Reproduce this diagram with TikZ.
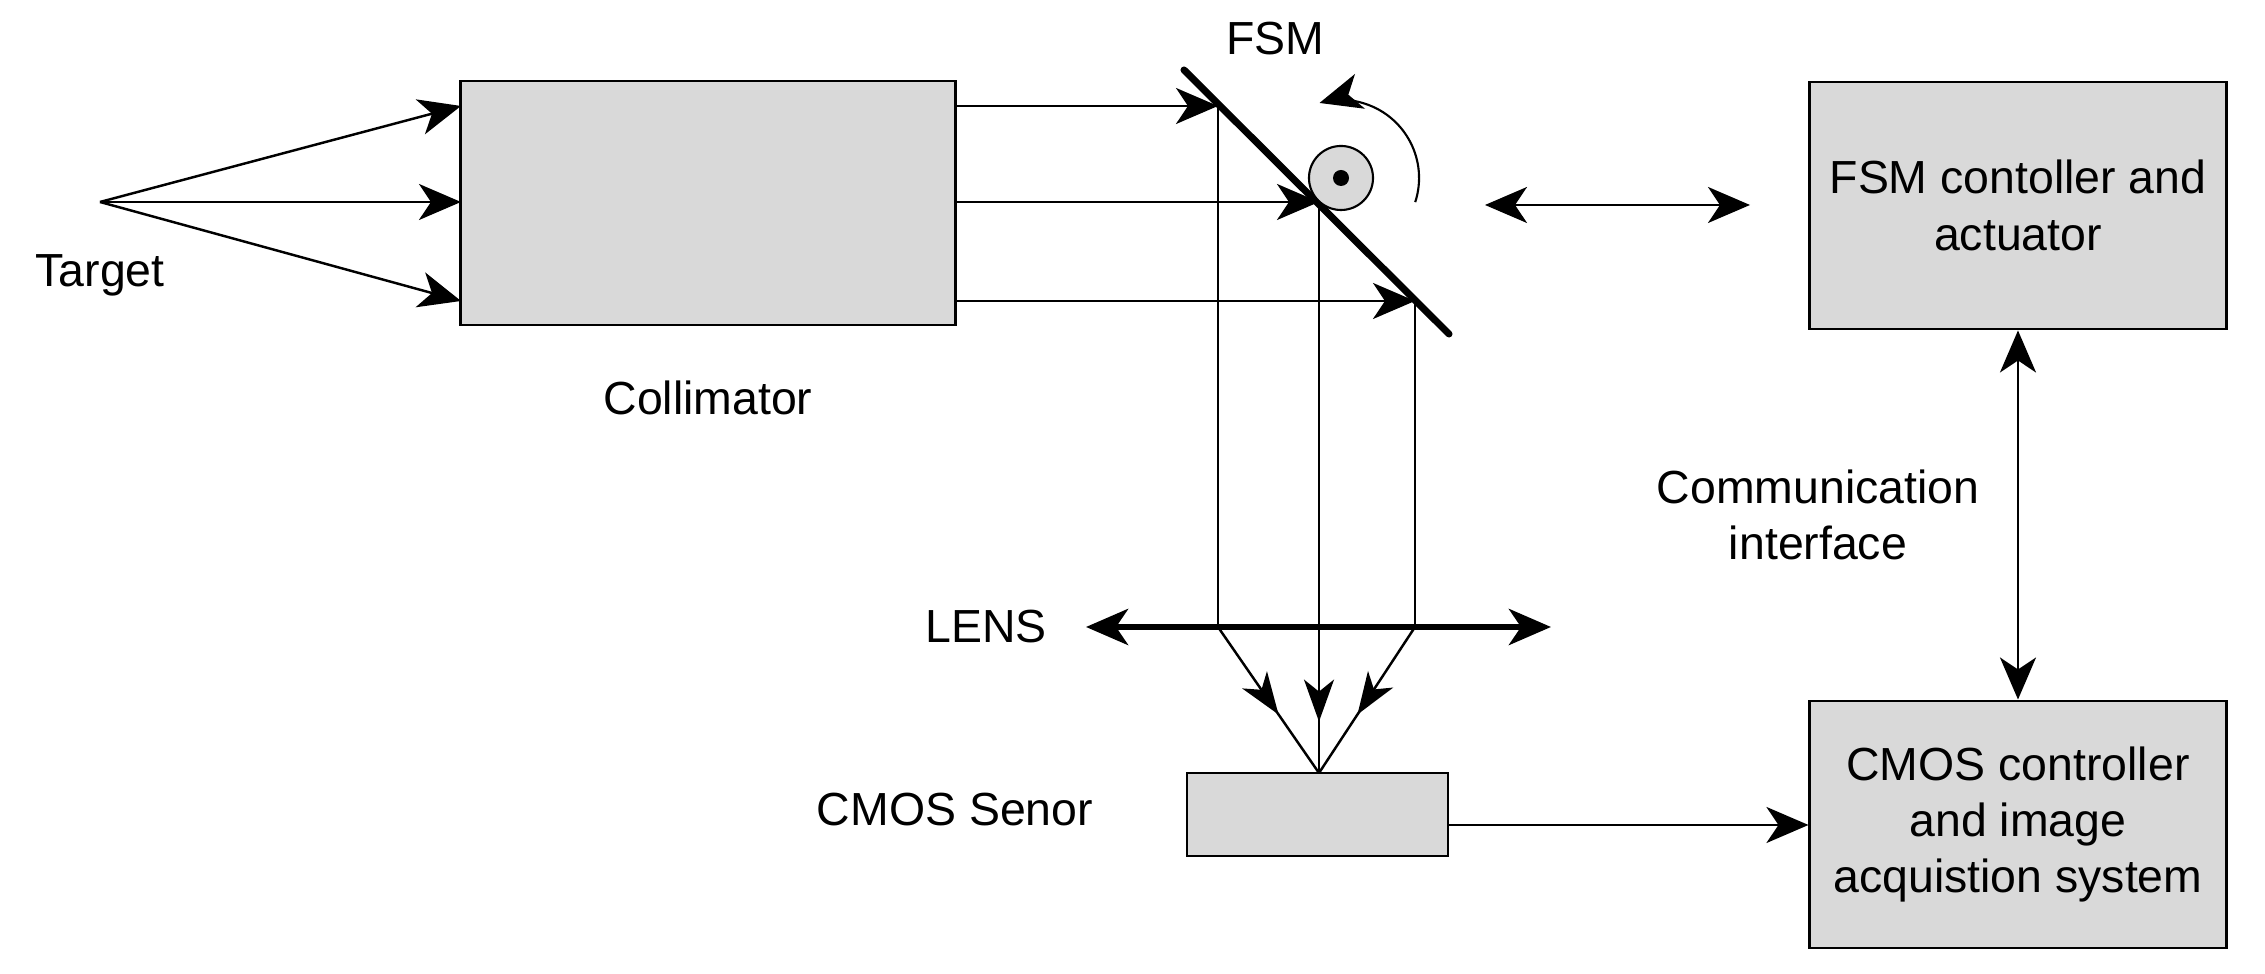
\documentclass[tikz,border=0pt]{standalone}
\usepackage{fontspec}
\setmainfont{Liberation Sans}
\usetikzlibrary{arrows.meta,decorations.markings}
\begin{document}
\begin{tikzpicture}[x=0.01cm,y=-0.01cm,
  thin line/.style={line width=0.7pt},
  tip/.style={-{Stealth[length=0.42cm,width=0.36cm,inset=0.12cm]}},
  dtip/.style={{Stealth[length=0.42cm,width=0.36cm,inset=0.12cm]}-{Stealth[length=0.42cm,width=0.36cm,inset=0.12cm]}},
  box/.style={draw,line width=0.8pt,fill=gray!30},
  lbl/.style={font=\fontsize{13.2pt}{16pt}\selectfont,align=center},
  midtip/.style={decoration={markings,mark=at position #1 with {\arrow{Stealth[length=0.42cm,width=0.3cm,inset=0.12cm]}}},postaction={decorate}}]
\useasboundingbox (0,0) rectangle (2265,974);
% boxes
\node[box,minimum width=4.94cm,minimum height=2.44cm] (col) at (708,203) {};
\node[box,minimum width=4.16cm,minimum height=2.47cm,lbl] (fsmc) at (2018,205.5) {FSM contoller and\\actuator};
\node[box,minimum width=4.16cm,minimum height=2.47cm,lbl] (cmosc) at (2018,824.5) {CMOS controller\\and image\\acquistion system};
\node[box,minimum width=2.61cm,minimum height=0.83cm] (sen) at (1317.5,814.5) {};
% labels
\node[lbl] (tl) at (100,275) {Target};
\node[lbl] (cl) at (708,398) {Collimator};
\node[lbl] (fl) at (1275,39) {FSM};
\node[lbl] (ll) at (986,627) {LENS};
\node[lbl] (sl) at (955,810) {CMOS Senor};
\node[lbl] (ci) at (1818,515) {Communication\\interface};
% coordinates
\coordinate (tg) at (100,202);
\coordinate (c1) at (461,106); \coordinate (c2) at (461,202); \coordinate (c3) at (461,301);
\coordinate (o1) at (955,106); \coordinate (o2) at (955,202); \coordinate (o3) at (955,301);
\coordinate (m1) at (1218,106); \coordinate (m2) at (1319,202); \coordinate (m3) at (1415,301);
\coordinate (l1) at (1218,627); \coordinate (l3) at (1415,627);
\coordinate (st) at (1319,773);
\coordinate (ma) at (1184,70); \coordinate (mb) at (1449,334);
\coordinate (la) at (1086,627); \coordinate (lb) at (1551,627);
\coordinate (da) at (1485,205); \coordinate (db) at (1750,205);
\coordinate (ac) at (1341,178);
% target rays
\draw[thin line,tip] (tg) -- (c1);
\draw[thin line,tip] (tg) -- (c2);
\draw[thin line,tip] (tg) -- (c3);
% collimated rays to mirror
\draw[thin line,tip] (o1) -- (m1);
\draw[thin line,tip] (o2) -- (m2);
\draw[thin line,tip] (o3) -- (m3);
% mirror
\draw[line width=2pt,line cap=round] (ma) -- (mb);
% rotation axis
\draw[line width=0.6pt,fill=gray!30] (ac) circle[radius=0.32cm];
\fill (ac) circle[radius=0.08cm];
\draw[line width=0.6pt,tip] ([shift={(-18:0.78cm)}]ac) arc[start angle=-18,end angle=106,radius=0.78cm];
% reflected rays
\draw[thin line] (m1) -- (l1);
\draw[thin line] (m3) -- (l3);
\draw[thin line,midtip=0.91] (m2) -- (st);
\draw[thin line,midtip=0.6] (l1) -- (st);
\draw[thin line,midtip=0.6] (l3) -- (st);
% lens
\draw[line width=1.8pt,dtip] (la) -- (lb);
% interfaces
\draw[thin line,dtip] (da) -- (db);
\draw[thin line,dtip] (fsmc) -- (cmosc);
\draw[thin line,tip] (sen.east |- 0,825) -- (cmosc.west |- 0,825);
\end{tikzpicture}
\end{document}
